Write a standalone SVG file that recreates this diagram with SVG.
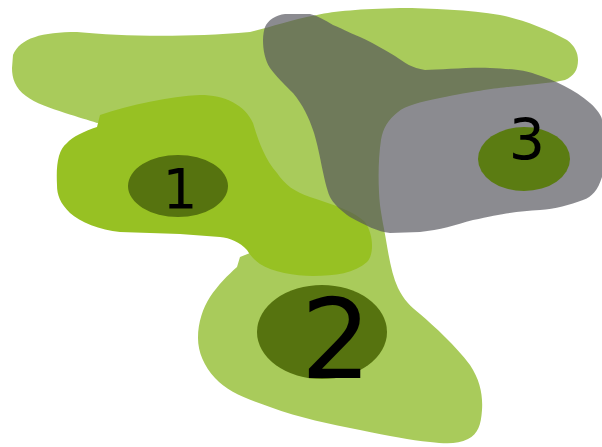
<svg xmlns="http://www.w3.org/2000/svg" width="602" height="447" viewBox="0 0 602 447">
<style>
.light{fill:#a9cb5b}
.bright{fill:#97c123}
.gray{fill:#52525a;fill-opacity:0.67}
.core{fill:#56730f}
.core3{fill:#5b7c12}
.lbl{font-family:"DejaVu Sans",sans-serif;fill:#000;text-anchor:middle}
</style>
<rect width="602" height="447" fill="#ffffff"/>
<g id="region-light">
<path class="light" d="M13,55 C20,38 42,32 77,32 C120,36 180,38 250,32 C268,28 290,20 317,15 C335,11 360,9 400,8 C430,8 470,10 500,15 C520,19 545,28 567,40 C575,46 578,53 578,60 C578,70 574,76 565,80 L555,82 C535,84 520,86 507,87 C490,89 475,91 440,98 C420,102 405,106 398,112 C388,120 383,128 381,140 C378,160 378,185 380,205 C382,220 384,228 386,240 C389,258 392,275 398,288 C404,300 410,306 420,314 C435,327 455,345 470,365 C480,380 483,395 482,410 C481,425 478,434 468,439 C458,444 447,444 430,442 C410,440 390,436 360,430 C330,424 300,418 270,407 C245,398 228,392 215,378 C204,366 198,352 198,338 C198,322 203,308 210,297 C218,285 228,275 237,267 L240,257 L250,253 L230,200 L104,122 L97,123 C88,120 78,117 65,113 C50,108 35,103 26,96 C15,88 12,78 12,68 Z"/>
</g>
<g id="region-bright">
<path class="bright" d="M100,115 C130,105 170,96 200,95 C225,95 245,105 253,123 C258,140 265,160 277,173 C285,185 295,192 310,197 C335,205 355,212 365,222 C374,235 374,255 367,262 C355,273 335,276 313,276 C295,276 272,272 260,264 C254,260 250,255 247,250 C240,242 230,238 220,237 L180,234 L120,232 C100,230 80,222 70,213 C60,203 57,195 57,185 C56,165 58,150 67,143 C72,137 85,131 97,127 Z"/>
</g>
<g id="region-gray">
<path class="gray" d="M265,27 C268,20 276,15 285,14 L310,14 C318,16 325,20 333,25 C345,30 352,34 360,37 C375,44 385,50 395,56 C405,63 412,68 425,70 C440,70 470,67 490,68 C510,69 525,70 535,74 C555,80 575,90 590,103 C598,110 602,117 602,120 L602,177 C598,190 592,197 583,200 C570,205 555,209 540,210 C520,211 505,213 473,220 C455,225 440,230 420,232 L390,233 C378,232 365,225 350,217 C340,210 333,203 330,197 C323,180 320,150 313,130 C309,118 303,105 293,93 C285,85 275,75 270,68 C265,60 263,50 263,40 C263,35 264,30 265,27 Z"/>
</g>
<g id="connectors"/>
<g id="node-1">
<ellipse class="core" cx="178" cy="186" rx="50" ry="31"/>
<text class="lbl" x="180" y="208" font-size="55">1</text>
</g>
<g id="node-2">
<ellipse class="core" cx="322" cy="332" rx="65" ry="47"/>
<text class="lbl" x="336" y="378" font-size="111">2</text>
</g>
<g id="node-3">
<ellipse class="core3" cx="524" cy="159" rx="46" ry="32"/>
<text class="lbl" x="527" y="160" font-size="57">3</text>
</g>
</svg>
